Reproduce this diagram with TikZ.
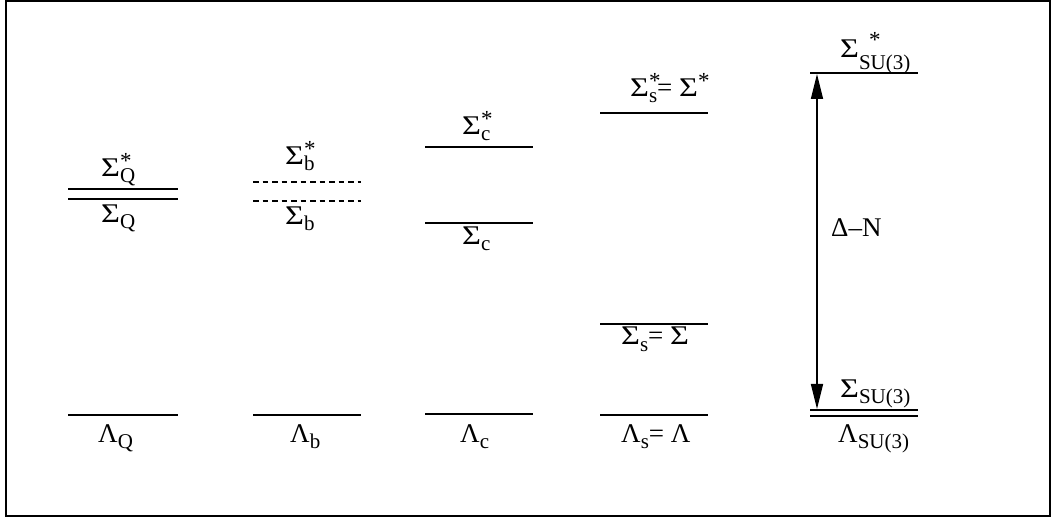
\documentclass[tikz,border=0pt]{standalone}
\usepackage{fontspec}
\usepackage{graphicx}
\setmainfont{Liberation Serif}
\usetikzlibrary{arrows.meta}
\newcommand{\bsz}{\fontsize{27}{27}\selectfont}
\newcommand{\ssz}{\fontsize{21}{21}\selectfont}
\newcommand{\stsz}{\fontsize{23}{23}\selectfont}
\newcommand{\Sg}{\scalebox{1.2}[1]{Σ}}
\newcommand{\lab}[3]{#1\rlap{\raisebox{8pt}{\stsz #2}}\raisebox{-6pt}{\ssz #3}}
\tikzset{
  lvl/.style={line width=1.6pt},
  dlvl/.style={line width=1.4pt, dash pattern=on 5.5pt off 4pt},
  lbl/.style={anchor=base west, inner sep=0pt, font=\bsz},
  frame/.style={line width=1.6pt},
  gap/.style={line width=1.6pt, {Triangle[length=25pt,width=12pt]}-{Triangle[length=25pt,width=12pt]}}
}
\begin{document}
\begin{tikzpicture}[x=1pt,y=-1pt]
\useasboundingbox (0,0) rectangle (1052,518);
\draw[frame] (6,1) rectangle (1050,516);
% column Q
\coordinate (sq1a) at (68,189); \coordinate (sq1b) at (178,189);
\coordinate (sq2a) at (68,199); \coordinate (sq2b) at (178,199);
\draw[lvl] (sq1a) -- (sq1b); \draw[lvl] (sq2a) -- (sq2b);
\node[lbl] (lsqs) at (101,177) {\lab{\Sg}{*}{Q}};
\node[lbl] (lsq) at (101,223) {\lab{\Sg}{}{Q}};
\coordinate (lqa) at (68,415); \coordinate (lqb) at (178,415);
\draw[lvl] (lqa) -- (lqb);
\node[lbl] (llq) at (98,442) {\lab{Λ}{}{Q}};
% column b
\coordinate (sb1a) at (253,182); \coordinate (sb1b) at (361,182);
\coordinate (sb2a) at (253,201); \coordinate (sb2b) at (361,201);
\draw[dlvl] (sb1a) -- (sb1b); \draw[dlvl] (sb2a) -- (sb2b);
\node[lbl] (lsbs) at (285,165) {\lab{\Sg}{*}{b}};
\node[lbl] (lsb) at (285,225) {\lab{\Sg}{}{b}};
\coordinate (lba) at (253,415); \coordinate (lbb) at (361,415);
\draw[lvl] (lba) -- (lbb);
\node[lbl] (llb) at (290,442) {\lab{Λ}{}{b}};
% column c
\coordinate (sc1a) at (425,147); \coordinate (sc1b) at (533,147);
\coordinate (sc2a) at (425,223); \coordinate (sc2b) at (533,223);
\draw[lvl] (sc1a) -- (sc1b); \draw[lvl] (sc2a) -- (sc2b);
\node[lbl] (lscs) at (462,135) {\lab{\Sg}{*}{c}};
\node[lbl] (lsc) at (462,245) {\lab{\Sg}{}{c}};
\coordinate (lca) at (425,414); \coordinate (lcb) at (533,414);
\draw[lvl] (lca) -- (lcb);
\node[lbl] (llc) at (460,442) {\lab{Λ}{}{c}};
% column s
\coordinate (ss1a) at (600,113); \coordinate (ss1b) at (708,113);
\coordinate (ss2a) at (600,324); \coordinate (ss2b) at (708,324);
\draw[lvl] (ss1a) -- (ss1b); \draw[lvl] (ss2a) -- (ss2b);
\node[lbl] (lsss) at (630,97) {\lab{\Sg}{*}{s}= \Sg\raisebox{8pt}{\stsz *}};
\node[lbl] (lss) at (621,345) {\lab{\Sg}{}{s}= \Sg};
\coordinate (lsa) at (600,415); \coordinate (lsb) at (708,415);
\draw[lvl] (lsa) -- (lsb);
\node[lbl] (lls) at (621,442) {\lab{Λ}{}{s}= Λ};
% column SU(3)
\coordinate (su1a) at (810,73); \coordinate (su1b) at (918,73);
\coordinate (su2a) at (810,410); \coordinate (su2b) at (918,410);
\coordinate (su3a) at (810,416); \coordinate (su3b) at (918,416);
\draw[lvl] (su1a) -- (su1b); \draw[lvl] (su2a) -- (su2b); \draw[lvl] (su3a) -- (su3b);
\node[lbl] (lsus) at (840,58) {\Sg\rlap{\hspace{10pt}\raisebox{10pt}{\stsz *}}\raisebox{-12pt}{\ssz SU(3)}};
\node[lbl] (lsu) at (840,397) {\lab{\Sg}{}{SU(3)}};
\node[lbl] (llsu) at (838,442) {\lab{Λ}{}{SU(3)}};
\coordinate (at) at (817,74); \coordinate (ab) at (817,409);
\draw[gap] (at) -- (ab);
\node[lbl] (dn) at (831,237) {Δ–N};
\end{tikzpicture}
\end{document}
